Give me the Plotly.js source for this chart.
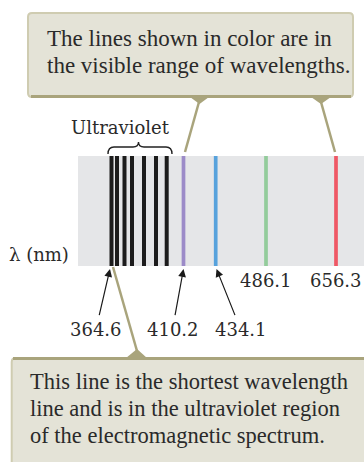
<!DOCTYPE html>
<html>
<head>
<meta charset="utf-8">
<script src="https://cdn.plot.ly/plotly-3.0.1.min.js"></script>
<style>html,body{margin:0;padding:0;background:#fff;}#chart{width:364px;height:462px;}</style>
</head>
<body>
<div id="chart"></div>
<script>
// ---- data (schematic positions of the hydrogen lines along the strip) ----
const uvLinePos = [111.5, 117, 124.5, 132, 144, 156, 166.7];
const visLinePos = [183.5, 215.7, 266, 336];
const visLineNames = ['410.2', '434.1', '486.1', '656.3'];
const uvLimitLabel = '364.6';
const topNote = ['The lines shown in color are in', 'the visible range of wavelengths.'];
const bottomNote = ['This line is the shortest wavelength', 'line and is in the ultraviolet region', 'of the electromagnetic spectrum.'];
const bandLabel = 'Ultraviolet';
const axisLabel = 'λ (nm)';

// ---- styles ----
const visColors = ['#9c8bc8', '#57a2dc', '#93cc9b', '#ef5865'];
const uvColor = '#1c1c1c';
const stripTop = 156, stripBottom = 266;
const boxFill = '#e4e3d7', boxEdge = '#cfccb1', boxDark = '#a9a47c';
const serif = 'Liberation Serif, Times New Roman, serif';
const labelFont = {family: 'DejaVu Serif, serif', size: 18, color: '#2a2a2a'};
const noteFont = {family: serif, size: 22.5, color: '#2a2a2a'};

const xs = uvLinePos.concat(visLinePos);
const colors = uvLinePos.map(() => uvColor).concat(visColors);
const widths = uvLinePos.map(() => 4).concat(visLinePos.map(() => 3.7));

const trace = {
  type: 'bar',
  x: xs,
  y: xs.map(() => stripBottom - stripTop),
  base: stripTop,
  width: widths,
  marker: {color: colors, line: {width: 0}},
  hoverinfo: 'skip'
};

const shapes = [
  // spectrum strip
  {type: 'rect', xref: 'x', yref: 'y', x0: 78, x1: 364, y0: stripTop, y1: stripBottom, fillcolor: '#e5e6e8', line: {width: 0}, layer: 'below'},
  // top callout
  {type: 'path', path: 'M32,13 L349,13 Q353,13 353,17 L353,93 Q353,97 349,97 L32,97 Q28,97 28,93 L28,17 Q28,13 32,13 Z', fillcolor: boxFill, line: {color: boxEdge, width: 2}, layer: 'below'},
  {type: 'line', x0: 31, x1: 351, y0: 96.5, y1: 96.5, line: {color: boxDark, width: 3}, layer: 'below'},
  {type: 'path', path: 'M190,97 L209,97 L199.5,104 Z', fillcolor: boxDark, line: {width: 0}, layer: 'below'},
  {type: 'path', path: 'M311,97 L331,97 L321,104 Z', fillcolor: boxDark, line: {width: 0}, layer: 'below'},
  {type: 'line', x0: 199, y0: 102, x1: 185, y1: 152, line: {color: boxDark, width: 2.5}, layer: 'below'},
  {type: 'line', x0: 321, y0: 102, x1: 335, y1: 152, line: {color: boxDark, width: 2.5}, layer: 'below'},
  // bottom callout
  {type: 'path', path: 'M11.7,475 L11.7,362 Q11.7,358 15.7,358 L370,358 L370,475 Z', fillcolor: boxFill, line: {color: boxEdge, width: 2}, layer: 'below'},
  {type: 'line', x0: 13, x1: 366, y0: 358.5, y1: 358.5, line: {color: boxDark, width: 3}, layer: 'below'},
  {type: 'path', path: 'M126,358 L147,358 L137,349 Z', fillcolor: boxDark, line: {width: 0}, layer: 'below'},
  {type: 'line', x0: 137, y0: 351, x1: 113, y1: 267, line: {color: boxDark, width: 2.5}, layer: 'below'},
  // brace over UV lines
  {type: 'path', path: 'M108,154 Q108,147 114,147 L133,147 Q138.5,147 138.5,142 Q138.5,147 144,147 L166,147 Q172,147 172,154', line: {color: '#222', width: 1.4}, layer: 'below'}
];

const annotations = [];
topNote.forEach((t, i) => annotations.push({x: 45, y: 38.5 + i * 27, xref: 'x', yref: 'y', text: t, showarrow: false, xanchor: 'left', yanchor: 'middle', font: Object.assign({}, noteFont, {size: 23})}));
bottomNote.forEach((t, i) => annotations.push({x: 28, y: 381 + i * 27, xref: 'x', yref: 'y', text: t, showarrow: false, xanchor: 'left', yanchor: 'middle', font: noteFont}));
annotations.push({x: 120, y: 127, xref: 'x', yref: 'y', text: bandLabel, showarrow: false, font: Object.assign({}, labelFont, {size: 18})});
annotations.push({x: 39, y: 254, xref: 'x', yref: 'y', text: axisLabel, showarrow: false, font: Object.assign({}, labelFont, {size: 18})});

// labels with arrows (UV limit, 410.2, 434.1), plain labels under the other lines
const arrowLabels = [
  {text: uvLimitLabel, tip: uvLinePos[0] - 1.5, tx: 96},
  {text: visLineNames[0], tip: visLinePos[0], tx: 172.5},
  {text: visLineNames[1], tip: visLinePos[1] + 0.8, tx: 240.5}
];
arrowLabels.forEach(a => annotations.push({
  x: a.tip, y: stripBottom + 3, xref: 'x', yref: 'y',
  ax: a.tx, ay: 329, axref: 'x', ayref: 'y',
  text: a.text, showarrow: true, arrowhead: 2, arrowsize: 1.3, arrowwidth: 1.2,
  arrowcolor: '#1a1a1a', standoff: 0, startstandoff: 2, font: labelFont
}));
[2, 3].forEach(i => annotations.push({x: visLinePos[i], y: 280, xref: 'x', yref: 'y', text: visLineNames[i], showarrow: false, font: labelFont}));

const layout = {
  width: 364, height: 462,
  margin: {l: 0, r: 0, t: 0, b: 0, pad: 0},
  paper_bgcolor: '#ffffff', plot_bgcolor: 'rgba(0,0,0,0)',
  xaxis: {range: [0, 364], visible: false, fixedrange: true},
  yaxis: {range: [462, 0], visible: false, fixedrange: true},
  showlegend: false,
  shapes: shapes,
  annotations: annotations
};

Plotly.newPlot('chart', [trace], layout, {staticPlot: true, displayModeBar: false});
</script>
</body>
</html>
